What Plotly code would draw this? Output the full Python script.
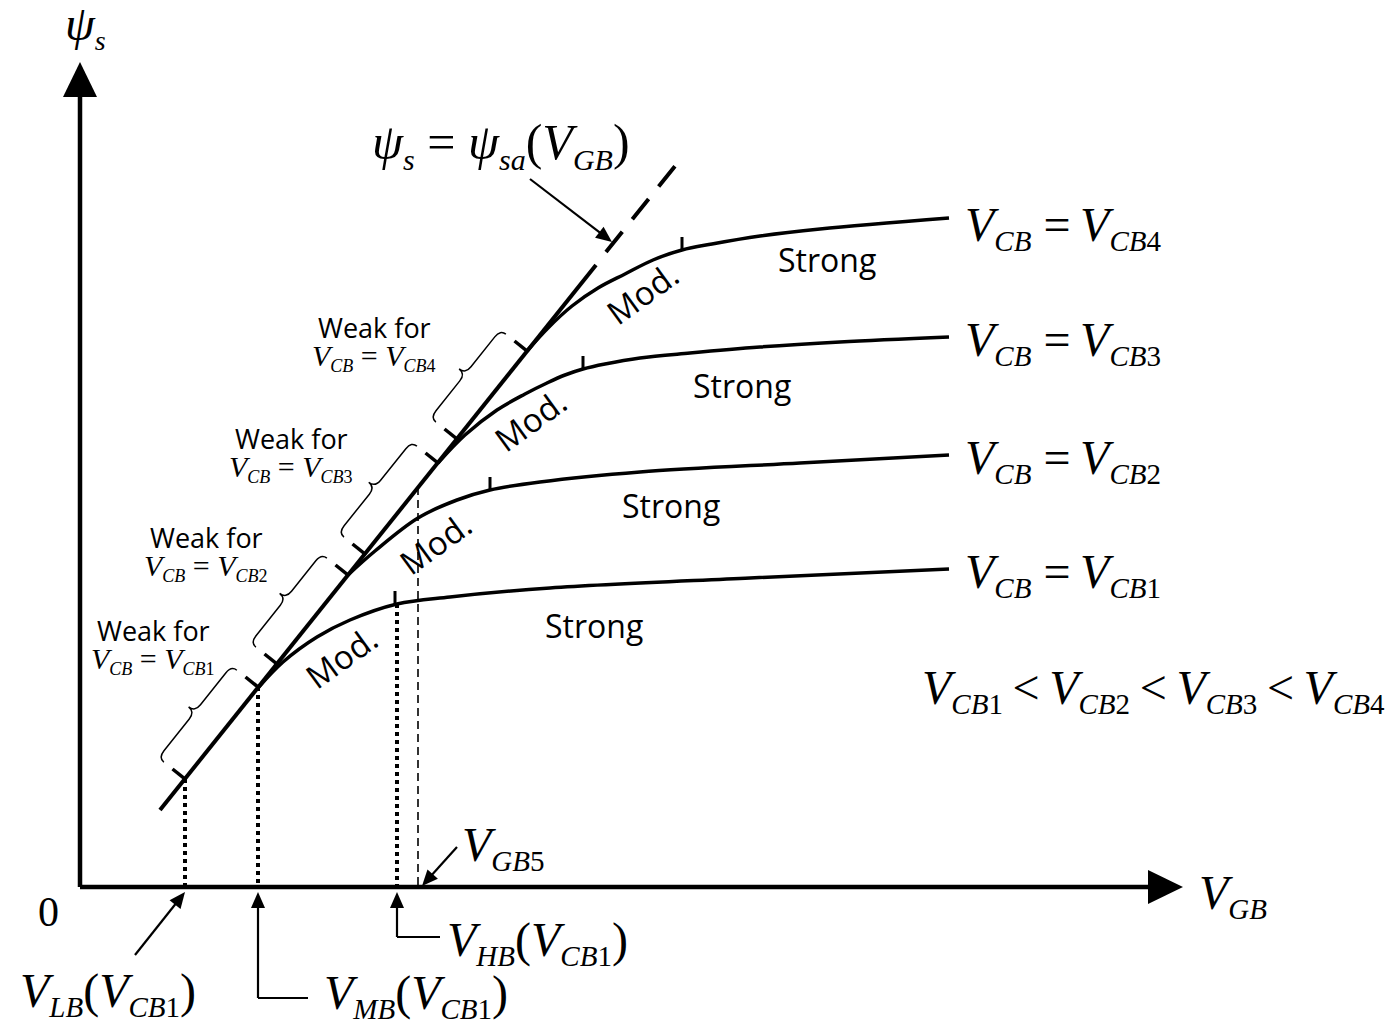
import plotly.graph_objects as go

# diagram units: 1 unit = 1 px, origin where the two axes meet
X_END = 1103      # tip of the V_GB axis arrow
Y_END = 825       # tip of the psi_s axis arrow

# straight asymptote psi_s = psi_sa(V_GB): solid part, then dashed part
asym_x = [80, 516]
asym_y = [77, 622]
asym_dash_x = [526, 604]
asym_dash_y = [635, 732]

# surface potential curves for V_CB1..V_CB4
curve_x = [
    [178, 203, 237, 270, 317, 370, 470, 670, 869],
    [268, 295, 338, 377, 410, 460, 560, 720, 869],
    [358, 385, 417, 445, 467, 485, 503, 525, 560, 610, 680, 760, 869],
    [447, 468, 492, 518, 545, 573, 602, 632, 680, 740, 869],
]
curve_y = [
    [199, 225, 250, 267, 283, 290, 299, 309, 318],
    [312, 336, 369, 387, 397, 405, 415, 424, 432],
    [424, 452, 477, 493, 504, 512, 518, 523, 529, 534, 540, 545, 550],
    [536, 559, 581, 599, 613, 627, 637, 643, 651, 658, 669],
]
curve_names = ["1", "2", "3", "4"]
curve_label_y = [313, 427, 545, 660]

# weak inversion range on the asymptote (start / end ticks)
weak_x0 = [105, 197, 285, 377]
weak_y0 = [108, 223, 333, 448]
weak_x1 = [178, 268, 358, 447]
weak_y1 = [200, 312, 424, 536]
weak_label_x = [73, 126, 211, 294]
weak_label_y = [257, 350, 449, 560]

# start of strong inversion (tick on each curve)
strong_x = [315, 410, 503, 602]
strong_y = [283, 397, 518, 637]
strong_label_x = [514, 591, 662, 747]
strong_label_y = [262, 382, 502, 628]
mod_label_x = [261, 355, 450, 562]
mod_label_y = [230, 344, 467, 594]

# characteristic gate voltages (V_LB, V_MB, V_HB for V_CB1, and V_GB5)
vlb_x, vmb_x, vhb_x, vgb5_x = 105, 178, 317, 338
vgb5_top = 400

SERIF = "Liberation Serif"
SANS = "Open Sans"
THIN = "\u2009"


def sub(main, s, digit="", size=29):
    return (f"<i>{main}</i><sub><span style='font-size:{size}px'>"
            f"<i>{s}</i>{digit}</span></sub>")


def seg(fig, xs, ys, width, dash="solid"):
    fig.add_trace(go.Scatter(x=xs, y=ys, mode="lines", hoverinfo="skip",
                             line=dict(color="black", width=width, dash=dash)))


def arrow(fig, x0, y0, x1, y1, width, length, half):
    dx, dy = x1 - x0, y1 - y0
    n = (dx * dx + dy * dy) ** 0.5
    ux, uy = dx / n, dy / n
    bx, by = x1 - ux * length, y1 - uy * length
    seg(fig, [x0, bx + ux * 2], [y0, by + uy * 2], width)
    p1 = (bx - uy * half, by + ux * half)
    p2 = (bx + uy * half, by - ux * half)
    fig.add_shape(type="path", xref="x", yref="y", fillcolor="black", line=dict(width=0),
                  path=f"M {x1},{y1} L {p1[0]},{p1[1]} L {p2[0]},{p2[1]} Z")


def brace(fig, xa, ya, xb, yb, d0=27, d1=34, d2=42, q=9):
    dx, dy = xb - xa, yb - ya
    L = (dx * dx + dy * dy) ** 0.5
    ux, uy = dx / L, dy / L
    nx, ny = -uy, ux

    def P(s, d):
        return f"{xa + s * ux + d * nx},{ya + s * uy + d * ny}"

    h = L / 2
    path = (f"M {P(0, d0)} Q {P(0, d1)} {P(q, d1)} L {P(h - q, d1)} "
            f"Q {P(h, d1)} {P(h, d2)} Q {P(h, d1)} {P(h + q, d1)} "
            f"L {P(L - q, d1)} Q {P(L, d1)} {P(L, d0)}")
    fig.add_shape(type="path", xref="x", yref="y", path=path,
                  line=dict(color="black", width=1.5))


def perp_tick(fig, x, y, length=16):
    # tick perpendicular to the asymptote, on its upper-left side
    dx, dy = asym_x[1] - asym_x[0], asym_y[1] - asym_y[0]
    n = (dx * dx + dy * dy) ** 0.5
    nx, ny = -dy / n, dx / n
    seg(fig, [x - nx, x + nx * length], [y - ny, y + ny * length], 3.5)


fig = go.Figure()

# axes
arrow(fig, 0, 0, 0, Y_END, 4.5, 35, 17)
arrow(fig, 0, 0, X_END, 0, 4.5, 35, 17)

# asymptote
seg(fig, asym_x, asym_y, 4)
seg(fig, asym_dash_x, asym_dash_y, 4, dash="26px,16px")

# curves, ticks, braces
for i in range(4):
    fig.add_trace(go.Scatter(x=curve_x[i], y=curve_y[i], mode="lines", hoverinfo="skip",
                             line=dict(color="black", width=3.5, shape="spline", smoothing=1.0)))
    perp_tick(fig, weak_x0[i], weak_y0[i])
    perp_tick(fig, weak_x1[i], weak_y1[i])
    seg(fig, [strong_x[i], strong_x[i]], [strong_y[i] - 1, strong_y[i] + 13], 3)
    brace(fig, weak_x0[i], weak_y0[i], weak_x1[i], weak_y1[i])

# projections to the V_GB axis
seg(fig, [vlb_x, vlb_x], [weak_y0[0], 0], 4, dash="4px,4px")
seg(fig, [vmb_x, vmb_x], [weak_y1[0], 0], 4, dash="4px,4px")
seg(fig, [vhb_x, vhb_x], [strong_y[0], 0], 4, dash="4px,4px")
seg(fig, [vgb5_x, vgb5_x], [vgb5_top, 0], 1.6, dash="8px,5px")

# pointer arrows
arrow(fig, 55, -68, vlb_x, -5, 2.2, 16, 7)
seg(fig, [228, vmb_x], [-111, -111], 2.2)
arrow(fig, vmb_x, -111, vmb_x, -5, 2.2, 16, 7)
seg(fig, [360, vhb_x], [-50, -50], 2.2)
arrow(fig, vhb_x, -50, vhb_x, -5, 2.2, 16, 7)
arrow(fig, 377, 40, 342, 1, 2.2, 16, 7)
arrow(fig, 450, 708, 532, 645, 2.2, 16, 7)

ann = []


def text(x, y, t, size, family=SERIF, xanchor="left", angle=0):
    ann.append(dict(x=x, y=y, xref="x", yref="y", text=t, showarrow=False,
                    xanchor=xanchor, yanchor="middle", textangle=angle,
                    font=dict(family=family, size=size, color="black")))


def paren(a, b):
    return a + "(" + b + ")"


text(5, 861, sub("ψ", "s", size=28), 48, xanchor="center")
text(-32, -25, "0", 42, xanchor="center")
text(1117, -8, sub("V", "GB"), 48)
text(290, 742, sub("ψ", "s", size=30) + " = " + sub("ψ", "sa", size=30) + paren("", sub("V", "GB", size=30)), 50)
text(380, 40, sub("V", "GB", "5"), 48)
text(365, -55, paren(sub("V", "HB"), sub("V", "CB", "1")), 48)
text(-62, -106, paren(sub("V", "LB"), sub("V", "CB", "1")), 48)
text(242, -108, paren(sub("V", "MB"), sub("V", "CB", "1")), 48)
text(840, 197, (THIN + "&lt;" + THIN).join(sub("V", "CB", d) for d in curve_names), 48)

for i in range(4):
    text(883, curve_label_y[i], sub("V", "CB") + " =" + THIN + sub("V", "CB", curve_names[i]), 48)
    text(weak_label_x[i], weak_label_y[i], "Weak for", 27, family=SANS, xanchor="center")
    text(weak_label_x[i], weak_label_y[i] - 30,
         sub("V", "CB", size=18) + " = " + sub("V", "CB", curve_names[i], size=18),
         30, xanchor="center")
    text(strong_label_x[i], strong_label_y[i], "Strong", 32, family=SANS, xanchor="center")
    text(mod_label_x[i], mod_label_y[i], "Mod.", 33, family=SANS, xanchor="center", angle=-36)

fig.update_layout(
    width=1388, height=1025,
    margin=dict(l=0, r=0, t=0, b=0),
    paper_bgcolor="white", plot_bgcolor="white",
    showlegend=False,
    xaxis=dict(range=[-80, 1308], visible=False, fixedrange=True),
    yaxis=dict(range=[-138, 887], visible=False, fixedrange=True),
    annotations=ann,
)

fig.write_html("out.html", config={"displayModeBar": False},
               post_script="document.body.style.margin='0';")
